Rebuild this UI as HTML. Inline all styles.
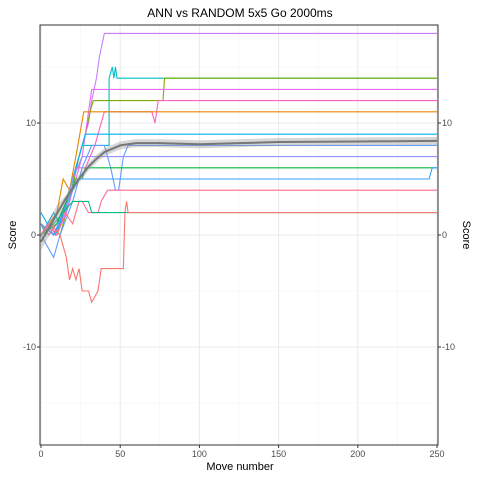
<!DOCTYPE html>
<html><head><meta charset="utf-8"><style>
body{margin:0;background:#fff;font-family:"Liberation Sans",sans-serif}
</style></head><body>
<svg id="c" width="480" height="480" xmlns="http://www.w3.org/2000/svg" font-family="Liberation Sans, sans-serif">
<rect width="480" height="480" fill="#fff"/>
<text x="240" y="17" text-anchor="middle" font-size="12" fill="#000">ANN vs RANDOM 5x5 Go 2000ms</text>
<text x="240" y="470" text-anchor="middle" font-size="11" fill="#000">Move number</text>
<text transform="translate(16,235) rotate(-90)" text-anchor="middle" font-size="11" fill="#000">Score</text>
<text transform="translate(463,235) rotate(90)" text-anchor="middle" font-size="11" fill="#000">Score</text>
<g id="grid"></g><g id="series"></g><g id="axes"></g>
</svg>
<script>
const xTicks=[0,50,100,150,200,250];
const yTicks=[-10,0,10];
const colors=["#C77CFF","#00BFC4","#7CAE00","#E76BF3","#FF61C3","#E58700","#00B0F6","#619CFF","#9590FF","#00BA38","#35A2FF","#FF6C91","#00BF7D","#F8766D"];
const s0=[[0,0],[4,1],[8,0],[12,1],[15,2],[18,4],[22,6],[26,8],[30,10],[32,12],[35,14],[37,16],[40,18],[250,18]];
const s1=[[0,1],[3,0],[6,1],[9,0],[12,1],[18,3],[22,6],[26,8],[43,8],[43,14],[45,15],[46,14],[47,15],[48,14],[250,14]];
const s2=[[0,0],[6,1],[12,0],[18,3],[24,7],[28,9],[31,11],[33,12],[77,12],[78,14],[250,14]];
const s3=[[0,0],[5,1],[10,0],[16,2],[22,5],[26,7],[30,11],[32,13],[250,13]];
const s4=[[0,1],[5,0],[10,1],[16,3],[22,6],[28,6],[34,8],[40,11],[70,11],[72,10],[74,12],[250,12]];
const s5=[[0,0],[10,2],[14,5],[18,4],[22,7],[27,11],[110,11],[111,11],[250,11]];
const s6=[[0,2],[4,1],[8,2],[12,1],[18,4],[24,7],[28,9],[250,9]];
const s7=[[0,0],[8,-2],[12,0],[20,3],[26,6],[32,8],[40,8],[44,6],[47,4],[49,4],[52,7],[55,8],[250,8]];
const s8=[[0,1],[8,0],[14,2],[20,5],[26,7],[250,7]];
const s9=[[0,0],[10,1],[16,3],[22,5],[26,5],[28,6],[110,6],[250,6]];
const s10=[[0,1],[8,0],[14,2],[20,4],[24,5],[245,5],[247,6],[250,6]];
const s11=[[0,0],[5,1],[10,0],[15,2],[20,1],[24,3],[26,3],[30,2],[36,2],[38,3],[42,4],[250,4]];
const s12=[[0,0],[8,1],[14,2],[20,3],[30,3],[32,2],[250,2]];
const s13=[[0,0],[6,1],[12,0],[16,-2],[18,-4],[20,-3],[22,-4],[24,-3],[26,-5],[30,-5],[32,-6],[36,-5],[38,-3],[52,-3],[53,2],[54,3],[55,2],[250,2]];
const allSeries=[s0,s1,s2,s3,s4,s5,s6,s7,s8,s9,s10,s11,s12,s13];
const smoothX=[0,5,10,15,20,25,30,35,40,50,60,75,100,125,150,200,250];
const smoothY=[-0.6,0.6,1.9,3.1,4.2,5.2,6.1,6.8,7.4,8.0,8.2,8.2,8.1,8.2,8.3,8.35,8.4];
const X=v=>41+v*396/250, Y=v=>235-v*11.2;
const NS="http://www.w3.org/2000/svg";
const g=document.getElementById('grid'),sg=document.getElementById('series'),ax=document.getElementById('axes');
function mk(p,t,a){const e=document.createElementNS(NS,t);for(const k in a)e.setAttribute(k,a[k]);p.appendChild(e);return e;}
for(let v=25;v<=250;v+=50){const l=mk(g,'line',{x1:X(v),x2:X(v),y1:25,y2:445,stroke:'#f3f3f3','stroke-width':0.6});

}
for(let v=-15;v<=15;v+=10){const l=mk(g,'line',{x1:40,x2:438,y1:Y(v),y2:Y(v),stroke:'#f3f3f3','stroke-width':0.6});

}
xTicks.forEach(v=>{const l=mk(g,'line',{x1:X(v),x2:X(v),y1:25,y2:445,stroke:'#ebebeb','stroke-width':1.1});


const t=mk(ax,'text',{x:X(v),y:457,'text-anchor':'middle','font-size':9,fill:'#4d4d4d'});t.textContent=v;


mk(ax,'line',{x1:X(v),x2:X(v),y1:445,y2:448,stroke:'#333'});});
yTicks.forEach(v=>{const l=mk(g,'line',{x1:40,x2:438,y1:Y(v),y2:Y(v),stroke:'#ebebeb','stroke-width':1.1});


const t=mk(ax,'text',{x:36,y:Y(v)+3,'text-anchor':'end','font-size':9,fill:'#4d4d4d'});t.textContent=v;


const t2=mk(ax,'text',{x:442,y:Y(v)+3,'text-anchor':'start','font-size':9,fill:'#4d4d4d'});t2.textContent=v;


mk(ax,'line',{x1:37,x2:40,y1:Y(v),y2:Y(v),stroke:'#333'});mk(ax,'line',{x1:438,x2:441,y1:Y(v),y2:Y(v),stroke:'#333'});});
const fr=mk(ax,'rect',{x:40,y:25,width:398,height:420,fill:'none',stroke:'#333','stroke-width':1});


allSeries.forEach((s,i)=>{const p=mk(sg,'polyline',{points:s.map(d=>X(d[0])+','+Y(d[1])).join(' '),fill:'none',stroke:colors[i],'stroke-width':1.1});

});
const up=smoothX.map((v,i)=>X(v)+','+Y(smoothY[i]+0.35+(i<3?0.4:0)));
const dn=smoothX.map((v,i)=>X(v)+','+Y(smoothY[i]-0.35-(i<3?0.4:0))).reverse();
const band=mk(sg,'polygon',{points:up.concat(dn).join(' '),fill:'#999',opacity:0.4});


const sm=mk(sg,'polyline',{points:smoothX.map((v,i)=>X(v)+','+Y(smoothY[i])).join(' '),fill:'none',stroke:'#777','stroke-width':2});


</script>
</body></html>
